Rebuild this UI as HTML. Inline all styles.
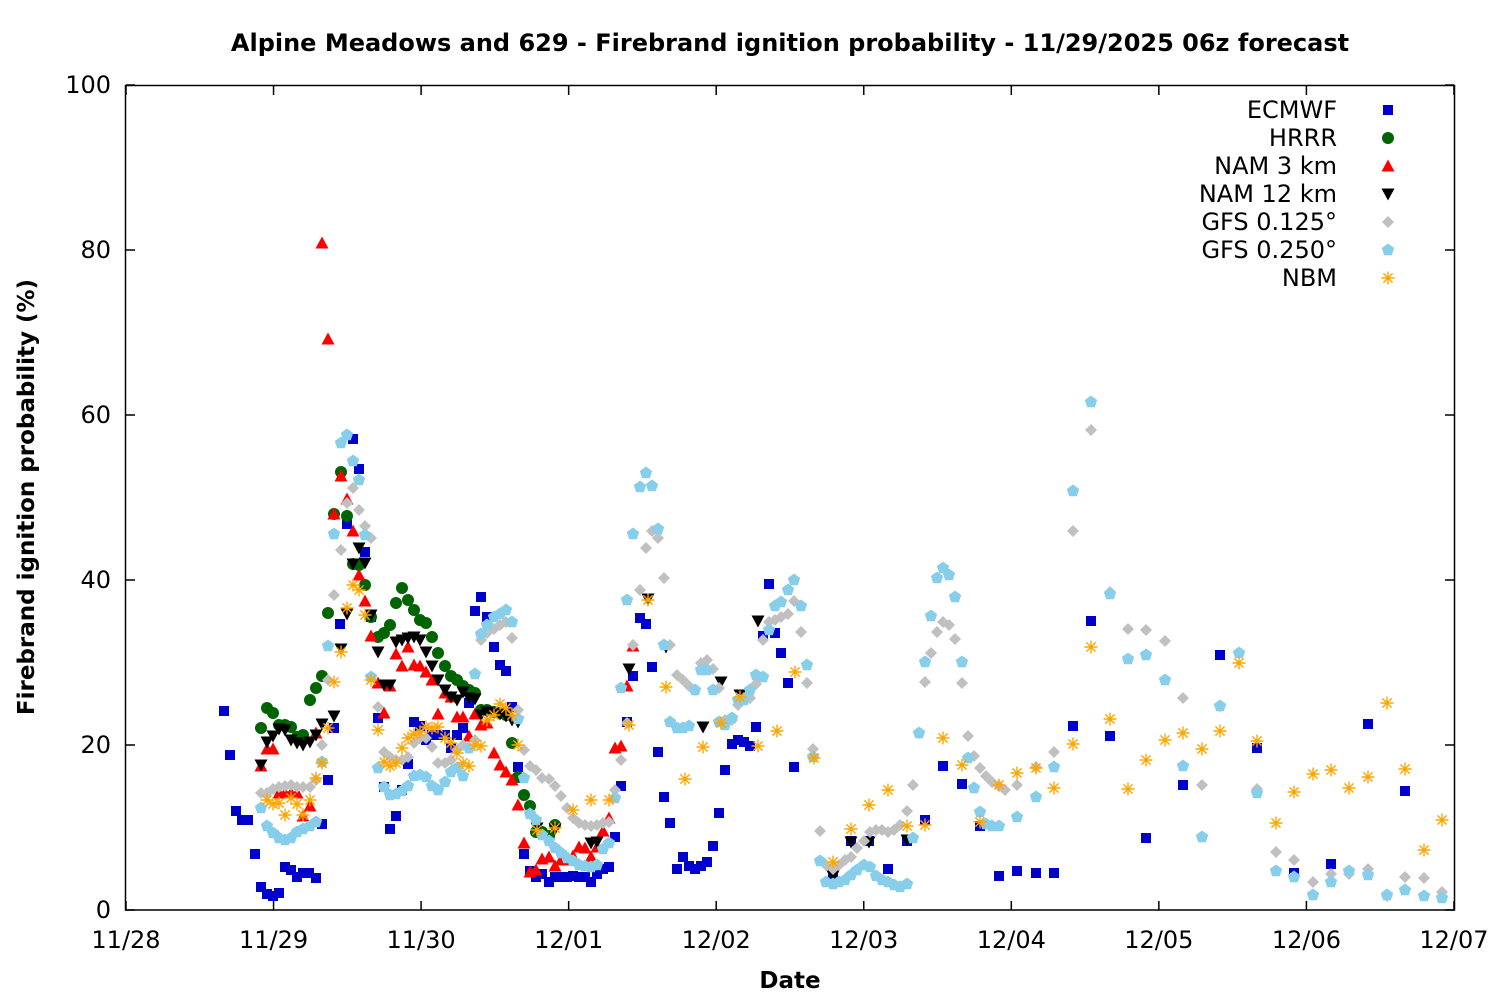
<!DOCTYPE html>
<html><head><meta charset="utf-8"><style>
html,body{margin:0;padding:0;background:#fff;}
svg text{font-family:"DejaVu Sans","Liberation Sans",sans-serif;fill:#000;}
</style></head><body>
<svg id="s" width="1500" height="1000" xmlns="http://www.w3.org/2000/svg">
<rect width="1500" height="1000" fill="#fff"/>
<text x="790" y="51" font-size="24" font-weight="bold" text-anchor="middle">Alpine Meadows and 629 - Firebrand ignition probability - 11/29/2025 06z forecast</text>
<text x="790" y="988" font-size="23" font-weight="bold" text-anchor="middle">Date</text>
<text transform="translate(34,497) rotate(-90)" font-size="23" font-weight="bold" text-anchor="middle">Firebrand ignition probability (%)</text>
<g id="ax"></g>
<g id="pts"></g>
<rect x="125.5" y="85.5" width="1329" height="824.5" fill="none" stroke="#000" stroke-width="1.5"/>
</svg>
<script>
var NS="http://www.w3.org/2000/svg";
function el(p,t,a,txt){var e=document.createElementNS(NS,t);for(var k in a)e.setAttribute(k,a[k]);if(txt!=null)e.textContent=txt;p.appendChild(e);return e;}
var ax=document.getElementById('ax'),g=document.getElementById('pts');
for(var i=0;i<=5;i++){var y=910-i*165;el(ax,'line',{x1:126,x2:135,y1:y,y2:y,stroke:'#000','stroke-width':1.5});el(ax,'line',{x1:1445,x2:1454,y1:y,y2:y,stroke:'#000','stroke-width':1.5});el(ax,'text',{x:111,y:y+8,'font-size':24,'text-anchor':'end'},String(i*20));}
var days=['11/28','11/29','11/30','12/01','12/02','12/03','12/04','12/05','12/06','12/07'];
for(var i=0;i<10;i++){var x=126+i*147.55;el(ax,'line',{x1:x,x2:x,y1:910,y2:901,stroke:'#000','stroke-width':1.5});el(ax,'line',{x1:x,x2:x,y1:86,y2:95,stroke:'#000','stroke-width':1.5});el(ax,'text',{x:x,y:948,'font-size':24,'text-anchor':'middle'},days[i]);}
function sq(x,y){el(g,'rect',{x:x-5,y:y-5,width:10,height:10,fill:'#0000cc'});}
function ci(x,y){el(g,'circle',{cx:x,cy:y,r:6,fill:'#006400'});}
function tu(x,y){el(g,'polygon',{points:(x-6.5)+','+(y+5.5)+' '+(x+6.5)+','+(y+5.5)+' '+x+','+(y-6.5),fill:'#ff0000'});}
function td(x,y){el(g,'polygon',{points:(x-6.5)+','+(y-5.5)+' '+(x+6.5)+','+(y-5.5)+' '+x+','+(y+6.5),fill:'#000'});}
function di(x,y){el(g,'polygon',{points:x+','+(y-6)+' '+(x+6)+','+y+' '+x+','+(y+6)+' '+(x-6)+','+y,fill:'#c0c0c0'});}
function pe(x,y){var p=[];for(var k=0;k<5;k++){var a=-Math.PI/2+k*2*Math.PI/5;p.push((x+6.5*Math.cos(a)).toFixed(1)+','+(y+6.5*Math.sin(a)).toFixed(1));}el(g,'polygon',{points:p.join(' '),fill:'#87ceeb'});}
function as(x,y){var d='';for(var k=0;k<4;k++){var a=k*Math.PI/4;var dx=6.5*Math.cos(a),dy=6.5*Math.sin(a);d+='M'+(x-dx)+' '+(y-dy)+'L'+(x+dx)+' '+(y+dy);}el(g,'path',{d:d,stroke:'#ffa500','stroke-width':1.4,fill:'none'});}
function draw(f,a){for(var i=0;i<a.length;i+=2)f(a[i],a[i+1]);}
var E=[224,711,230,755,236,811,242,820,248,820,255,854,261,887,267,894,273,896,279,893,285,867,291,870,297,877,303,873,309,873,316,878,322,824,328,780,334,728,340,624,347,524,353,439,359,469,365,552,371,617,378,718,384,787,390,829,396,816,402,790,408,764,414,722,420,726,426,740,432,735,438,735,445,735,451,748,457,735,463,728,469,703,475,611,481,597,487,617,494,647,500,665,506,671,512,707,518,767,524,854,530,871,536,877,542,874,549,882,555,877,561,877,567,877,573,876,579,877,585,877,591,882,597,874,603,869,609,867,615,837,621,786,627,722,633,676,640,618,646,624,652,667,658,752,664,797,670,823,677,869,683,857,689,866,695,869,701,866,707,862,713,846,719,813,725,770,732,744,738,740,744,742,750,746,756,727,763,636,769,584,775,633,781,653,788,683,794,767,833,875,851,841,869,841,888,869,907,841,925,820,943,766,962,784,980,826,999,876,1017,871,1036,873,1054,873,1073,726,1091,621,1110,736,1146,838,1183,785,1220,655,1257,748,1294,873,1331,864,1368,724,1405,791];
var H=[261,728,267,708,273,713,279,725,285,725,291,727,297,737,303,735,310,700,316,688,322,676,328,613,334,514,341,472,347,516,353,564,359,565,365,585,371,617,378,637,384,633,390,625,396,603,402,588,408,600,414,610,420,620,426,623,432,637,438,653,445,666,451,676,457,680,463,686,469,690,475,693,481,710,487,710,494,712,500,713,506,715,512,743,518,777,524,795,530,806,536,832,542,832,549,836,555,825];
var N3=[261,766,267,749,273,749,279,793,285,793,291,793,297,793,303,816,310,806,316,733,322,243,328,339,334,514,341,476,347,499,353,531,359,575,365,601,371,636,378,683,384,713,390,686,396,654,402,666,408,647,414,665,420,666,426,672,432,680,438,714,445,693,451,697,457,717,463,717,469,736,475,714,481,725,487,723,494,753,500,765,506,772,512,780,518,805,524,843,530,872,536,870,542,859,549,857,555,866,561,860,567,860,573,856,579,847,585,848,591,857,597,847,603,831,609,818,615,748,621,746,627,686,633,646];
var N12=[261,765,267,742,273,736,279,729,285,730,291,740,297,743,303,745,310,742,316,735,322,724,334,716,341,649,347,614,353,564,359,548,365,563,371,615,378,652,384,685,390,685,396,642,402,640,408,638,414,637,420,640,426,652,432,666,438,680,445,690,451,697,457,700,463,692,469,698,475,699,481,715,487,712,494,713,500,714,506,716,512,720,518,722,537,828,555,829,591,843,597,842,629,669,648,599,666,647,703,727,721,682,740,695,758,621,833,876,851,842,869,842,907,840];
var G1=[261,793,267,793,273,789,279,787,285,786,291,785,297,787,303,787,310,787,316,780,322,745,328,680,334,595,341,550,347,503,353,488,359,510,365,526,371,538,378,707,384,752,390,757,396,760,402,760,408,757,414,743,420,738,426,738,432,747,438,763,445,763,451,760,457,750,463,745,469,748,475,740,481,640,487,633,494,629,500,625,506,622,512,638,518,710,524,750,530,766,536,770,542,778,549,779,555,786,561,796,567,808,573,818,579,823,585,825,591,826,597,825,603,823,609,822,615,790,621,760,627,723,633,645,640,590,646,548,652,531,658,538,664,578,670,645,677,675,683,680,689,686,695,690,701,663,707,660,713,669,719,688,725,720,732,720,738,705,744,698,750,698,756,684,763,640,769,622,775,620,781,617,788,614,794,601,801,632,807,683,813,749,820,831,826,865,833,869,839,865,845,860,851,857,857,848,864,841,870,832,876,830,882,830,888,832,894,830,900,825,907,811,913,785,919,733,925,682,931,653,937,632,943,622,949,625,955,639,962,683,968,736,974,756,980,768,986,776,992,782,999,786,1005,790,1017,785,1036,767,1054,752,1073,531,1091,430,1110,592,1128,629,1146,630,1165,641,1183,698,1202,785,1220,706,1239,653,1257,789,1276,852,1294,860,1313,882,1331,874,1349,874,1368,869,1387,896,1405,877,1424,878,1442,892];
var G2=[261,808,267,826,273,833,279,838,285,840,291,838,297,832,303,829,310,826,316,822,322,762,328,646,334,534,341,443,347,435,353,461,359,480,365,535,371,677,378,768,384,787,390,795,396,794,402,791,408,786,414,776,420,775,426,777,432,786,438,790,445,782,451,772,457,768,463,776,469,748,475,674,481,634,487,625,494,617,500,614,506,610,512,622,518,719,524,778,530,814,536,820,542,835,549,841,555,848,561,853,567,858,573,861,579,865,585,866,591,867,597,865,603,849,609,843,615,798,621,688,627,600,633,534,640,487,646,473,652,486,658,529,664,645,670,722,677,728,683,728,689,726,695,690,701,670,707,670,713,690,719,722,725,725,732,718,738,700,744,700,750,690,756,675,763,677,769,630,775,606,781,602,788,590,794,580,801,606,807,665,813,757,820,861,826,882,833,884,839,882,845,880,851,875,857,870,864,865,870,867,876,876,882,880,888,882,894,885,900,887,907,884,913,838,919,733,925,662,931,616,937,578,943,568,949,575,955,597,962,662,968,758,974,788,980,812,986,824,992,826,999,826,1017,817,1036,797,1054,767,1073,491,1091,402,1110,594,1128,659,1146,655,1165,680,1183,766,1202,837,1220,706,1239,653,1257,793,1276,871,1294,877,1313,895,1331,882,1349,871,1368,875,1387,895,1405,890,1424,896,1442,898];
var NB=[267,800,273,804,279,803,285,815,291,798,297,804,303,815,310,800,316,778,322,763,328,728,334,682,341,652,347,608,353,585,359,590,365,615,371,680,378,730,384,762,390,766,396,763,402,748,408,738,414,734,420,732,426,727,432,728,438,727,445,738,451,743,457,753,463,763,469,766,475,745,481,746,487,720,494,715,500,704,506,708,512,715,518,745,537,830,555,828,573,810,591,800,609,800,629,725,648,600,666,687,685,779,703,747,721,723,740,697,758,746,777,731,795,672,814,758,833,862,851,829,869,805,888,790,907,826,925,825,943,738,962,765,980,822,999,785,1017,773,1036,768,1054,788,1073,744,1091,647,1110,719,1128,789,1146,760,1165,740,1183,733,1202,749,1220,731,1239,663,1257,741,1276,823,1294,792,1313,774,1331,770,1349,788,1368,777,1387,703,1405,769,1424,850,1442,820];
draw(sq,E);draw(ci,H);draw(tu,N3);draw(td,N12);draw(di,G1);draw(pe,G2);draw(as,NB);
var L=[['ECMWF',sq],['HRRR',ci],['NAM 3 km',tu],['NAM 12 km',td],['GFS 0.125°',di],['GFS 0.250°',pe],['NBM',as]];
for(var i=0;i<L.length;i++){var y=110+i*28;el(ax,'text',{x:1337,y:y+8,'font-size':24,'text-anchor':'end'},L[i][0]);L[i][1](1388,y);}
</script>
</body></html>
